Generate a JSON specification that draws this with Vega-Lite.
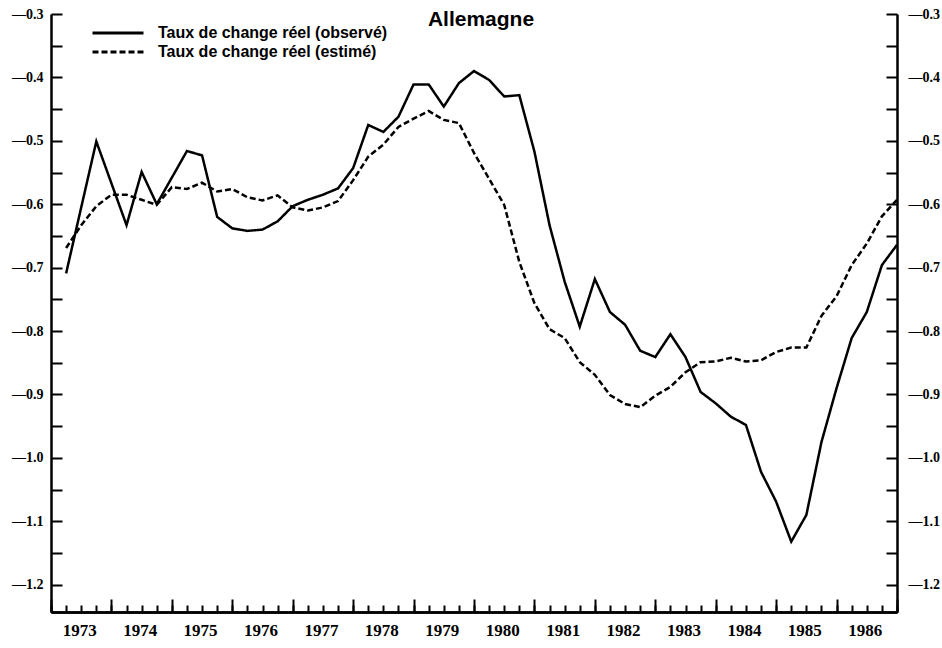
{
  "$schema": "https://vega.github.io/schema/vega-lite/v6.json",
  "width": 846,
  "height": 598,
  "autosize": {"type": "none"},
  "padding": {"left": 51, "top": 14, "right": 45, "bottom": 36},
  "background": "white",
  "config": {"view": {"stroke": null}, "font": "Liberation Sans"},
  "title": {"text": "Allemagne", "font": "Liberation Sans", "fontSize": 21, "fontWeight": "bold", "color": "black", "anchor": "middle", "frame": "group", "offset": 0, "baseline": "alphabetic", "dy": 40, "dx": 7},
  "datasets": {
    "d": [
      {"t": 1973.25, "serie": "Taux de change réel (observé)", "v": -0.709},
      {"t": 1973.5, "serie": "Taux de change réel (observé)", "v": -0.605},
      {"t": 1973.75, "serie": "Taux de change réel (observé)", "v": -0.501},
      {"t": 1974.0, "serie": "Taux de change réel (observé)", "v": -0.567},
      {"t": 1974.25, "serie": "Taux de change réel (observé)", "v": -0.633},
      {"t": 1974.5, "serie": "Taux de change réel (observé)", "v": -0.549},
      {"t": 1974.75, "serie": "Taux de change réel (observé)", "v": -0.600},
      {"t": 1975.0, "serie": "Taux de change réel (observé)", "v": -0.558},
      {"t": 1975.25, "serie": "Taux de change réel (observé)", "v": -0.516},
      {"t": 1975.5, "serie": "Taux de change réel (observé)", "v": -0.523},
      {"t": 1975.75, "serie": "Taux de change réel (observé)", "v": -0.620},
      {"t": 1976.0, "serie": "Taux de change réel (observé)", "v": -0.638},
      {"t": 1976.25, "serie": "Taux de change réel (observé)", "v": -0.642},
      {"t": 1976.5, "serie": "Taux de change réel (observé)", "v": -0.640},
      {"t": 1976.75, "serie": "Taux de change réel (observé)", "v": -0.627},
      {"t": 1977.0, "serie": "Taux de change réel (observé)", "v": -0.603},
      {"t": 1977.25, "serie": "Taux de change réel (observé)", "v": -0.593},
      {"t": 1977.5, "serie": "Taux de change réel (observé)", "v": -0.585},
      {"t": 1977.75, "serie": "Taux de change réel (observé)", "v": -0.575},
      {"t": 1978.0, "serie": "Taux de change réel (observé)", "v": -0.543},
      {"t": 1978.25, "serie": "Taux de change réel (observé)", "v": -0.475},
      {"t": 1978.5, "serie": "Taux de change réel (observé)", "v": -0.486},
      {"t": 1978.75, "serie": "Taux de change réel (observé)", "v": -0.462},
      {"t": 1979.0, "serie": "Taux de change réel (observé)", "v": -0.411},
      {"t": 1979.25, "serie": "Taux de change réel (observé)", "v": -0.411},
      {"t": 1979.5, "serie": "Taux de change réel (observé)", "v": -0.446},
      {"t": 1979.75, "serie": "Taux de change réel (observé)", "v": -0.409},
      {"t": 1980.0, "serie": "Taux de change réel (observé)", "v": -0.390},
      {"t": 1980.25, "serie": "Taux de change réel (observé)", "v": -0.404},
      {"t": 1980.5, "serie": "Taux de change réel (observé)", "v": -0.430},
      {"t": 1980.75, "serie": "Taux de change réel (observé)", "v": -0.428},
      {"t": 1981.0, "serie": "Taux de change réel (observé)", "v": -0.517},
      {"t": 1981.25, "serie": "Taux de change réel (observé)", "v": -0.633},
      {"t": 1981.5, "serie": "Taux de change réel (observé)", "v": -0.722},
      {"t": 1981.75, "serie": "Taux de change réel (observé)", "v": -0.793},
      {"t": 1982.0, "serie": "Taux de change réel (observé)", "v": -0.718},
      {"t": 1982.25, "serie": "Taux de change réel (observé)", "v": -0.770},
      {"t": 1982.5, "serie": "Taux de change réel (observé)", "v": -0.790},
      {"t": 1982.75, "serie": "Taux de change réel (observé)", "v": -0.831},
      {"t": 1983.0, "serie": "Taux de change réel (observé)", "v": -0.841},
      {"t": 1983.25, "serie": "Taux de change réel (observé)", "v": -0.805},
      {"t": 1983.5, "serie": "Taux de change réel (observé)", "v": -0.841},
      {"t": 1983.75, "serie": "Taux de change réel (observé)", "v": -0.896},
      {"t": 1984.0, "serie": "Taux de change réel (observé)", "v": -0.914},
      {"t": 1984.25, "serie": "Taux de change réel (observé)", "v": -0.935},
      {"t": 1984.5, "serie": "Taux de change réel (observé)", "v": -0.948},
      {"t": 1984.75, "serie": "Taux de change réel (observé)", "v": -1.022},
      {"t": 1985.0, "serie": "Taux de change réel (observé)", "v": -1.069},
      {"t": 1985.25, "serie": "Taux de change réel (observé)", "v": -1.132},
      {"t": 1985.5, "serie": "Taux de change réel (observé)", "v": -1.090},
      {"t": 1985.75, "serie": "Taux de change réel (observé)", "v": -0.975},
      {"t": 1986.0, "serie": "Taux de change réel (observé)", "v": -0.890},
      {"t": 1986.25, "serie": "Taux de change réel (observé)", "v": -0.811},
      {"t": 1986.5, "serie": "Taux de change réel (observé)", "v": -0.770},
      {"t": 1986.75, "serie": "Taux de change réel (observé)", "v": -0.696},
      {"t": 1987.0, "serie": "Taux de change réel (observé)", "v": -0.664},
      {"t": 1973.25, "serie": "Taux de change réel (estimé)", "v": -0.669},
      {"t": 1973.5, "serie": "Taux de change réel (estimé)", "v": -0.633},
      {"t": 1973.75, "serie": "Taux de change réel (estimé)", "v": -0.603},
      {"t": 1974.0, "serie": "Taux de change réel (estimé)", "v": -0.585},
      {"t": 1974.25, "serie": "Taux de change réel (estimé)", "v": -0.585},
      {"t": 1974.5, "serie": "Taux de change réel (estimé)", "v": -0.593},
      {"t": 1974.75, "serie": "Taux de change réel (estimé)", "v": -0.601},
      {"t": 1975.0, "serie": "Taux de change réel (estimé)", "v": -0.573},
      {"t": 1975.25, "serie": "Taux de change réel (estimé)", "v": -0.576},
      {"t": 1975.5, "serie": "Taux de change réel (estimé)", "v": -0.566},
      {"t": 1975.75, "serie": "Taux de change réel (estimé)", "v": -0.580},
      {"t": 1976.0, "serie": "Taux de change réel (estimé)", "v": -0.576},
      {"t": 1976.25, "serie": "Taux de change réel (estimé)", "v": -0.589},
      {"t": 1976.5, "serie": "Taux de change réel (estimé)", "v": -0.594},
      {"t": 1976.75, "serie": "Taux de change réel (estimé)", "v": -0.586},
      {"t": 1977.0, "serie": "Taux de change réel (estimé)", "v": -0.605},
      {"t": 1977.25, "serie": "Taux de change réel (estimé)", "v": -0.610},
      {"t": 1977.5, "serie": "Taux de change réel (estimé)", "v": -0.605},
      {"t": 1977.75, "serie": "Taux de change réel (estimé)", "v": -0.595},
      {"t": 1978.0, "serie": "Taux de change réel (estimé)", "v": -0.562},
      {"t": 1978.25, "serie": "Taux de change réel (estimé)", "v": -0.525},
      {"t": 1978.5, "serie": "Taux de change réel (estimé)", "v": -0.506},
      {"t": 1978.75, "serie": "Taux de change réel (estimé)", "v": -0.478},
      {"t": 1979.0, "serie": "Taux de change réel (estimé)", "v": -0.465},
      {"t": 1979.25, "serie": "Taux de change réel (estimé)", "v": -0.453},
      {"t": 1979.5, "serie": "Taux de change réel (estimé)", "v": -0.467},
      {"t": 1979.75, "serie": "Taux de change réel (estimé)", "v": -0.472},
      {"t": 1980.0, "serie": "Taux de change réel (estimé)", "v": -0.519},
      {"t": 1980.25, "serie": "Taux de change réel (estimé)", "v": -0.560},
      {"t": 1980.5, "serie": "Taux de change réel (estimé)", "v": -0.601},
      {"t": 1980.75, "serie": "Taux de change réel (estimé)", "v": -0.691},
      {"t": 1981.0, "serie": "Taux de change réel (estimé)", "v": -0.756},
      {"t": 1981.25, "serie": "Taux de change réel (estimé)", "v": -0.797},
      {"t": 1981.5, "serie": "Taux de change réel (estimé)", "v": -0.811},
      {"t": 1981.75, "serie": "Taux de change réel (estimé)", "v": -0.849},
      {"t": 1982.0, "serie": "Taux de change réel (estimé)", "v": -0.869},
      {"t": 1982.25, "serie": "Taux de change réel (estimé)", "v": -0.901},
      {"t": 1982.5, "serie": "Taux de change réel (estimé)", "v": -0.915},
      {"t": 1982.75, "serie": "Taux de change réel (estimé)", "v": -0.920},
      {"t": 1983.0, "serie": "Taux de change réel (estimé)", "v": -0.902},
      {"t": 1983.25, "serie": "Taux de change réel (estimé)", "v": -0.888},
      {"t": 1983.5, "serie": "Taux de change réel (estimé)", "v": -0.865},
      {"t": 1983.75, "serie": "Taux de change réel (estimé)", "v": -0.849},
      {"t": 1984.0, "serie": "Taux de change réel (estimé)", "v": -0.848},
      {"t": 1984.25, "serie": "Taux de change réel (estimé)", "v": -0.842},
      {"t": 1984.5, "serie": "Taux de change réel (estimé)", "v": -0.848},
      {"t": 1984.75, "serie": "Taux de change réel (estimé)", "v": -0.846},
      {"t": 1985.0, "serie": "Taux de change réel (estimé)", "v": -0.833},
      {"t": 1985.25, "serie": "Taux de change réel (estimé)", "v": -0.826},
      {"t": 1985.5, "serie": "Taux de change réel (estimé)", "v": -0.826},
      {"t": 1985.75, "serie": "Taux de change réel (estimé)", "v": -0.776},
      {"t": 1986.0, "serie": "Taux de change réel (estimé)", "v": -0.745},
      {"t": 1986.25, "serie": "Taux de change réel (estimé)", "v": -0.696},
      {"t": 1986.5, "serie": "Taux de change réel (estimé)", "v": -0.662},
      {"t": 1986.75, "serie": "Taux de change réel (estimé)", "v": -0.619},
      {"t": 1987.0, "serie": "Taux de change réel (estimé)", "v": -0.593}
    ]
  },
  "data": {"name": "d"},
  "layer": [
    {
      "mark": {"type": "line", "color": "black", "strokeWidth": 2.5},
      "encoding": {
        "x": {
          "field": "t", "type": "quantitative",
          "scale": {"domain": [1973, 1987], "nice": false, "zero": false},
          "axis": {
            "orient": "bottom", "title": null, "grid": false,
            "values": [1973,1974,1975,1976,1977,1978,1979,1980,1981,1982,1983,1984,1985,1986,1987],
            "tickSize": -13, "tickWidth": 2, "tickColor": "black",
            "domainColor": "black", "domainWidth": 2.5,
            "labels": false
          }
        },
        "y": {
          "field": "v", "type": "quantitative",
          "scale": {"domain": [-1.243, -0.3], "nice": false, "zero": false},
          "axis": {
            "orient": "left", "title": null, "grid": false,
            "values": [-1.2,-1.15,-1.1,-1.05,-1.0,-0.95,-0.9,-0.85,-0.8,-0.75,-0.7,-0.65,-0.6,-0.55,-0.5,-0.45,-0.4,-0.35,-0.3],
            "tickSize": -11, "tickWidth": 2, "tickColor": "black",
            "domainColor": "black", "domainWidth": 2.5,
            "labelExpr": "abs(datum.value*10 - round(datum.value*10)) < 0.01 ? '—' + format(-datum.value, '.1f') : ''",
            "labelPadding": 19, "labelOverlap": false, "labelFlush": false,
            "labelFont": "Liberation Sans Narrow", "labelFontSize": 14, "labelFontWeight": "bold", "labelColor": "black"
          }
        },
        "strokeDash": {
          "field": "serie", "type": "nominal",
          "scale": {"domain": ["Taux de change réel (observé)", "Taux de change réel (estimé)"], "range": [[1, 0], [6, 3]]},
          "legend": {
            "orient": "none", "legendX": 59, "legendY": 11, "title": null, "padding": 0,
            "symbolType": "M-5,0H5", "symbolSize": 104, "symbolStrokeWidth": 3, "symbolStrokeColor": "black",
            "labelFont": "Liberation Sans", "labelFontSize": 16, "labelFontWeight": "bold", "labelColor": "black",
            "labelOffset": 32, "rowPadding": 3, "labelLimit": 500
          }
        }
      }
    },
    {
      "mark": {"type": "line", "opacity": 0},
      "encoding": {
        "x": {
          "field": "t", "type": "quantitative",
          "axis": {
            "orient": "bottom", "title": null, "grid": false,
            "values": [1973,1973.25,1973.5,1973.75,1974,1974.25,1974.5,1974.75,1975,1975.25,1975.5,1975.75,1976,1976.25,1976.5,1976.75,1977,1977.25,1977.5,1977.75,1978,1978.25,1978.5,1978.75,1979,1979.25,1979.5,1979.75,1980,1980.25,1980.5,1980.75,1981,1981.25,1981.5,1981.75,1982,1982.25,1982.5,1982.75,1983,1983.25,1983.5,1983.75,1984,1984.25,1984.5,1984.75,1985,1985.25,1985.5,1985.75,1986,1986.25,1986.5,1986.75,1987],
            "tickSize": -7, "tickWidth": 2, "tickColor": "black",
            "domainColor": "black", "domainWidth": 2.5,
            "labelExpr": "datum.value % 1 == 0.5 ? '' + floor(datum.value) : ''",
            "labelPadding": 17, "labelOffset": -2, "labelFlush": false, "labelOverlap": false,
            "labelFont": "Liberation Sans Narrow", "labelFontSize": 17, "labelFontWeight": "bold", "labelColor": "black"
          }
        },
        "y": {
          "field": "v", "type": "quantitative",
          "scale": {"domain": [-1.243, -0.3], "nice": false, "zero": false},
          "axis": {
            "orient": "right", "title": null, "grid": false,
            "values": [-1.2,-1.15,-1.1,-1.05,-1.0,-0.95,-0.9,-0.85,-0.8,-0.75,-0.7,-0.65,-0.6,-0.55,-0.5,-0.45,-0.4,-0.35,-0.3],
            "tickSize": -11, "tickWidth": 2, "tickColor": "black",
            "domainColor": "black", "domainWidth": 2.5,
            "labelExpr": "abs(datum.value*10 - round(datum.value*10)) < 0.01 ? '—' + format(-datum.value, '.1f') : ''",
            "labelPadding": 22, "labelOverlap": false, "labelFlush": false,
            "labelFont": "Liberation Sans Narrow", "labelFontSize": 14, "labelFontWeight": "bold", "labelColor": "black"
          }
        },
        "detail": {"field": "serie", "type": "nominal"}
      }
    }
  ],
  "resolve": {"axis": {"x": "independent", "y": "independent"}, "scale": {"y": "independent"}}
}
